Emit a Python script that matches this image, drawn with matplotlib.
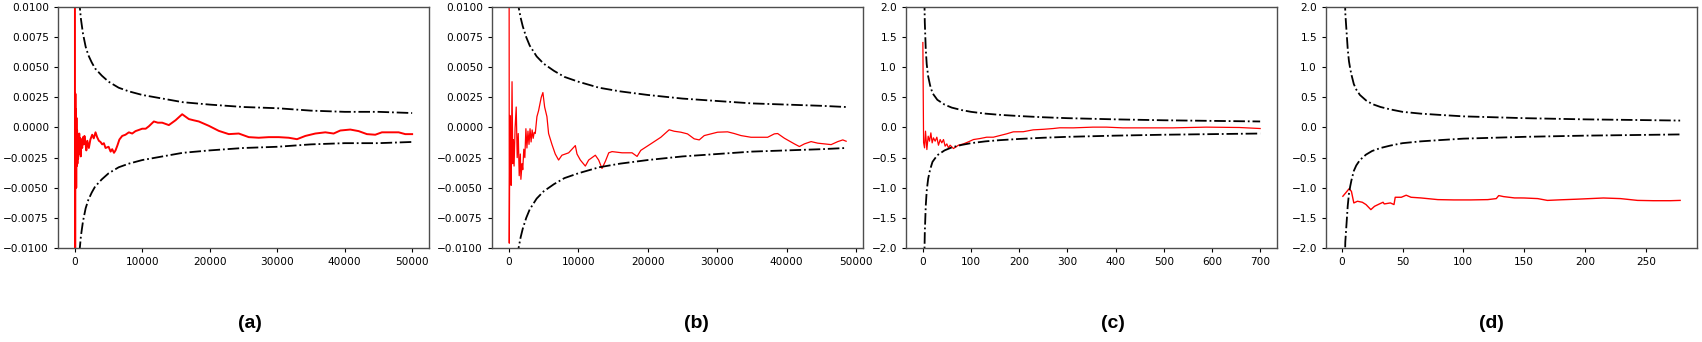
import matplotlib.pyplot as plt
import numpy as np

# ---- panel (a) ----
a_n = [0, 30, 80, 120, 160, 200, 240, 280, 330, 380, 430, 480, 530, 593, 650, 720, 800, 870,
       950, 1087, 1200, 1300, 1420, 1581, 1700, 1850, 2075, 2300, 2569, 2800, 3063, 3300, 3557,
       3800, 4052, 4300, 4546, 5000, 5300, 5534, 5800, 6028, 6300, 6600, 7016, 7500, 8004, 8500,
       8993, 9500, 9981, 10500, 10969, 11710, 12300, 12945, 13934, 14922, 15910, 16898, 17600,
       18381, 19860, 21340, 22820, 24300, 25780, 27260, 28740, 30220, 31700, 32930, 34170, 35650,
       37130, 38360, 39350, 40830, 42070, 43300, 44530, 45520, 46760, 48000, 48980, 50000]
a_val = [0.04, -0.04, 0.0028, -0.0035, 0.0015, -0.0050, 0.0008, -0.0032, -0.0002, -0.0030,
         -0.0006, -0.0026, -0.0008, -0.0022, -0.0005, -0.0020, -0.0009, -0.0024, -0.0010,
         -0.0017, -0.0008, -0.0014, -0.0007, -0.0013, -0.0019, -0.0011, -0.0017, -0.0010,
         -0.0006, -0.0009, -0.0004, -0.0008, -0.0011, -0.0012, -0.0014, -0.0013, -0.0017,
         -0.0016, -0.0020, -0.0018, -0.0021, -0.0019, -0.0015, -0.0010, -0.0007, -0.0006,
         -0.0004, -0.0005, -0.0003, -0.0002, -0.0001, -0.0001, 0.0001, 0.0005, 0.0004, 0.0004,
         0.0002, 0.0006, 0.0011, 0.0007, 0.0006, 0.0005, 0.00014, -0.00028, -0.00055, -0.0005,
         -0.0008, -0.00085, -0.0008, -0.0008, -0.00085, -0.00097, -0.0007, -0.0005, -0.0004,
         -0.0005, -0.00025, -0.00017, -0.0003, -0.00055, -0.0006, -0.0004, -0.0004, -0.0004,
         -0.00055, -0.00055]
a_bn = [500, 700, 900, 1200, 1600, 2000, 2500, 3000, 4000, 5000, 6500, 8000, 10000, 13000,
        16000, 20000, 25000, 30000, 35000, 40000, 45000, 50000]
a_bound = [0.0120, 0.0102, 0.0090, 0.0078, 0.0067, 0.0060, 0.0054, 0.0049, 0.0043, 0.0038,
           0.0033, 0.0030, 0.0027, 0.0024, 0.0021, 0.0019, 0.0017, 0.0016, 0.0014, 0.0013,
           0.0013, 0.0012]

# ---- panel (b) ----
b_n = [0, 60, 150, 250, 330, 457, 560, 650, 750, 900, 1058, 1200, 1350, 1490, 1650, 1731, 1900,
       2000, 2150, 2300, 2452, 2600, 2750, 2900, 3050, 3200, 3350, 3500, 3650, 3800, 4040, 4280,
       4660, 4900, 5150, 5480, 5720, 6200, 6680, 7160, 7640, 8130, 8610, 9090, 9570, 9810, 10290,
       11010, 11490, 11970, 12450, 12930, 13410, 13900, 14380, 14860, 16300, 17740, 18460, 18990,
       20430, 21880, 23080, 23800, 24760, 25720, 26680, 27410, 28130, 29090, 30050, 31490, 32450,
       33420, 34860, 36300, 37260, 38220, 38700, 39670, 41110, 41830, 42550, 43510, 44470, 45440,
       46400, 47360, 48080, 48560]
b_val = [0.05, -0.0096, 0.001, -0.002, -0.0048, 0.0038, -0.003, -0.001, -0.0032, 0.0000,
         0.0017, -0.0025, -0.0005, -0.0040, -0.0022, -0.0043, -0.0030, -0.0035, -0.0018,
         -0.0025, -0.0001, -0.0017, -0.0003, -0.0014, -0.0001, -0.0012, -0.0002, -0.0009,
         -0.0004, -0.0005, 0.0009, 0.0014, 0.0025, 0.0029, 0.0017, 0.0009, -0.0005, -0.0014,
         -0.0022, -0.0027, -0.0023, -0.0022, -0.0021, -0.0018, -0.0015, -0.0022, -0.0027,
         -0.0032, -0.0027, -0.0025, -0.0023, -0.0027, -0.0034, -0.0028, -0.0021, -0.0020,
         -0.0021, -0.0021, -0.0024, -0.0019, -0.00136, -0.00081, -0.00019, -0.00031, -0.00039,
         -0.00053, -0.00094, -0.00103, -0.00067, -0.00053, -0.00039, -0.00036, -0.0005,
         -0.00067, -0.00081, -0.00081, -0.00081, -0.00053, -0.0005, -0.00089, -0.00136,
         -0.00158, -0.00136, -0.00117, -0.0013, -0.00136, -0.00142, -0.00117, -0.00103, -0.00114]
b_bn = [1200, 1400, 1700, 2000, 2500, 3000, 4000, 5000, 6500, 8000, 10000, 13000, 16000, 20000,
        25000, 30000, 35000, 40000, 45000, 48560]
b_bound = [0.0108, 0.0100, 0.0091, 0.0084, 0.0075, 0.0068, 0.0059, 0.0053, 0.0047, 0.0042,
           0.0038, 0.0033, 0.0030, 0.0027, 0.0024, 0.0022, 0.0020, 0.0019, 0.0018, 0.0017]

# ---- panel (c) ----
c_n = [0, 1.5, 3.5, 5.5, 8.3, 11, 13.8, 16.6, 19.3, 22, 25.5, 29, 32.4, 35.9, 39.3, 42.8, 46.2,
       49.7, 53.1, 56.6, 63.5, 73.8, 84.2, 94.5, 104.9, 118.7, 132.5, 146.3, 160.1, 173.9,
       187.7, 208.4, 229, 249.8, 270.5, 284, 312, 353, 381, 415, 450, 519, 588, 657, 700]
c_val = [1.41, -0.25, -0.338, -0.061, -0.366, -0.144, -0.227, -0.089, -0.255, -0.172, -0.227,
         -0.161, -0.294, -0.2, -0.255, -0.2, -0.31, -0.272, -0.338, -0.294, -0.349, -0.294,
         -0.272, -0.238, -0.2, -0.183, -0.161, -0.161, -0.133, -0.105, -0.072, -0.07, -0.039,
         -0.03, -0.017, -0.005, -0.006, 0.006, 0.006, -0.006, -0.006, -0.006, 0.006, 0.0, -0.017]
c_bn = [2, 3, 4, 6, 8, 11, 15, 20, 30, 45, 60, 80, 100, 130, 160, 200, 250, 300, 400, 500, 600, 700]
c_bound = [3.2, 2.2, 1.75, 1.3, 1.05, 0.85, 0.7, 0.57, 0.46, 0.38, 0.33, 0.29, 0.26, 0.23, 0.21,
           0.19, 0.17, 0.155, 0.135, 0.12, 0.11, 0.1]

# ---- panel (d) ----
d_n = [1, 4, 6, 8, 10, 13, 17, 20, 24, 27, 31, 34, 35, 40, 43, 44, 49, 53, 57, 65, 79, 92, 106,
       120, 127, 129, 133, 142, 147, 150, 161, 169, 180, 193, 204, 215, 229, 243, 256, 270, 278]
d_val = [-1.141, -1.069, -1.019, -1.058, -1.252, -1.224, -1.241, -1.279, -1.363, -1.308,
         -1.269, -1.241, -1.269, -1.252, -1.279, -1.158, -1.158, -1.124, -1.158, -1.169, -1.197,
         -1.202, -1.202, -1.197, -1.18, -1.13, -1.147, -1.169, -1.169, -1.17, -1.18, -1.21,
         -1.2, -1.19, -1.18, -1.17, -1.18, -1.21, -1.215, -1.215, -1.21]
d_bn = [1, 2, 3, 4, 5, 6, 7, 8, 10, 12, 15, 20, 25, 32, 40, 50, 65, 80, 100, 125, 150, 175, 200,
        240, 278]
d_bound = [6.0, 2.8, 1.9, 1.6, 1.3, 1.1, 0.98, 0.88, 0.72, 0.63, 0.54, 0.45, 0.39, 0.34, 0.3,
           0.26, 0.23, 0.21, 0.185, 0.17, 0.155, 0.145, 0.135, 0.125, 0.115]

labels = ["(a)", "(b)", "(c)", "(d)"]

panels = [
    (a_n, a_val, a_bn, a_bound, (-0.01, 0.01), 1.4),
    (b_n, b_val, b_bn, b_bound, (-0.01, 0.01), 0.9),
    (c_n, c_val, c_bn, c_bound, (-2.0, 2.0), 0.9),
    (d_n, d_val, d_bn, d_bound, (-2.0, 2.0), 1.0),
]
lefts = [58, 492, 906, 1326]
label_x = [250, 696, 1113, 1491]
W, H = 1702, 342

fig = plt.figure(figsize=(W / 100, H / 100), dpi=100)
for i, (n, val, bn, bound, ylim, lw) in enumerate(panels):
    x0 = lefts[i] / W
    ax = fig.add_axes([x0, 1 - 248 / H, 371 / W, 241 / H])
    ax.plot(n, val, color="red", lw=lw)
    ax.plot(bn, bound, color="black", ls="-.", lw=1.3)
    ax.plot(bn, -np.array(bound), color="black", ls="-.", lw=1.3)
    xmin, xmax = min(min(n), min(bn)), max(max(n), max(bn))
    pad = 0.05 * (xmax - xmin)
    ax.set_xlim(xmin - pad, xmax + pad)
    ax.set_ylim(*ylim)
    ax.tick_params(labelsize=7.6, length=3, width=0.8)
    for s in ax.spines.values():
        s.set_color("0.3")
        s.set_linewidth(1.0)
    fig.text(label_x[i] / W, 1 - 323 / H, labels[i], ha="center", va="center",
             fontsize=14, fontweight="bold", family="Liberation Sans")

fig.savefig("out.png", dpi=100)
